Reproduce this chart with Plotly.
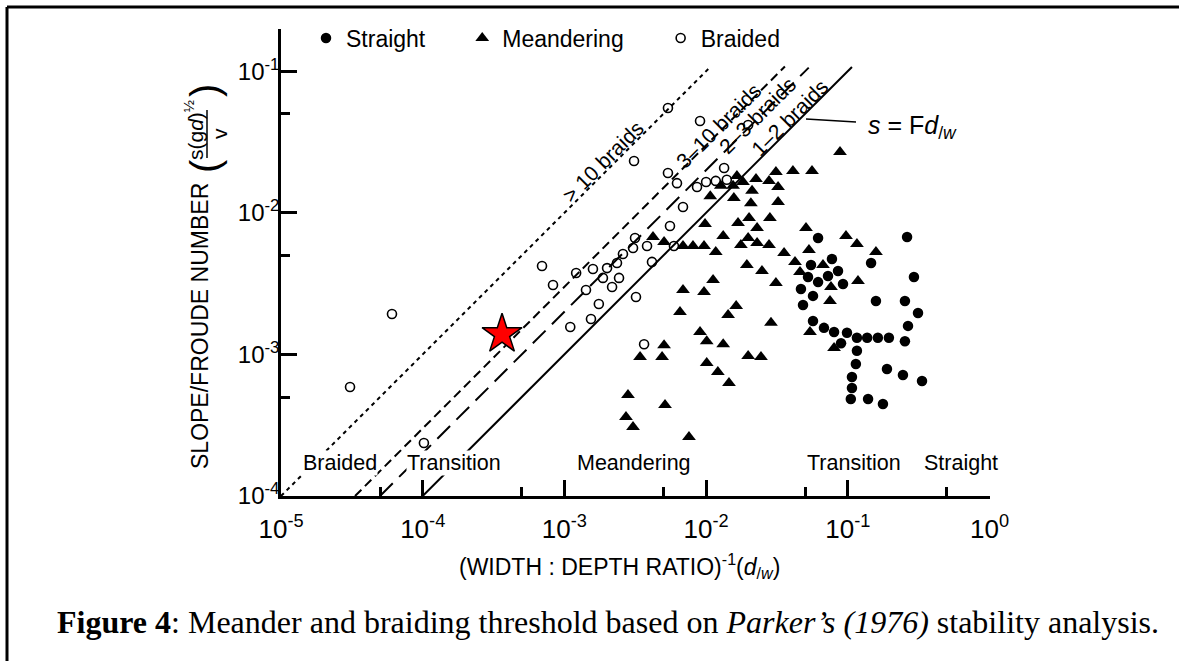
import plotly.graph_objects as go

W, H = 1179, 661

# ---------------- data ----------------
braided_x = [3.07e-5, 6.07e-5, 1.02e-4, 6.95e-4, 8.31e-4, 1.10e-3, 1.21e-3, 1.42e-3,
             1.54e-3, 1.59e-3, 1.75e-3, 1.87e-3, 2.00e-3, 2.17e-3, 2.35e-3, 2.43e-3,
             2.59e-3, 3.05e-3, 3.15e-3, 3.20e-3, 3.65e-3, 3.83e-3, 4.15e-3, 3.10e-3,
             5.38e-3, 5.38e-3, 6.23e-3, 5.56e-3, 5.93e-3, 6.87e-3, 9.06e-3, 1.98e-2,
             8.63e-3, 1.00e-2, 1.17e-2, 1.34e-2, 1.40e-2]
braided_y = [5.89e-4, 1.93e-3, 2.37e-4, 4.21e-3, 3.09e-3, 1.56e-3, 3.76e-3, 2.85e-3,
             1.78e-3, 4.01e-3, 2.27e-3, 3.47e-3, 4.07e-3, 2.99e-3, 4.42e-3, 3.47e-3,
             5.12e-3, 5.64e-3, 6.64e-3, 2.54e-3, 1.18e-3, 5.83e-3, 4.50e-3, 2.32e-2,
             5.50e-2, 1.91e-2, 1.62e-2, 8.07e-3, 5.83e-3, 1.10e-2, 4.45e-2, 4.17e-2,
             1.52e-2, 1.65e-2, 1.68e-2, 2.07e-2, 1.71e-2]

meander_x = [8.81e-2, 4.10e-2, 5.59e-2, 3.11e-2, 1.65e-2, 2.25e-2, 2.78e-2, 1.27e-2,
             1.82e-2, 1.55e-2, 3.22e-2, 2.11e-2, 1.07e-2, 1.57e-2, 2.07e-2, 3.22e-2,
             9.83e-3, 1.68e-2, 2.01e-2, 2.82e-2, 2.29e-2, 5.07e-2, 1.32e-2, 1.98e-2,
             2.29e-2, 2.78e-2, 1.76e-2, 9.71e-2, 1.16e-1, 1.58e-1, 4.22e-3, 5.05e-3,
             6.87e-3, 8.08e-3, 9.67e-3, 1.17e-2, 3.55e-2, 5.32e-2, 1.94e-2, 2.48e-2,
             4.24e-2, 4.60e-2, 6.68e-2, 7.61e-2, 3.11e-2, 1.12e-2, 6.87e-3, 9.67e-3,
             1.18e-1, 6.54e-3, 1.63e-2, 1.43e-2, 2.87e-2, 9.06e-3, 1.01e-2, 1.32e-2,
             5.05e-3, 5.41e-2, 7.49e-2, 8.00e-2, 3.42e-3, 4.89e-3, 1.98e-2, 2.44e-2,
             1.01e-2, 1.21e-2, 1.45e-2, 2.81e-3, 5.13e-3, 2.72e-3, 3.05e-3, 7.57e-3]
meander_y = [2.69e-2, 1.97e-2, 1.97e-2, 1.94e-2, 1.82e-2, 1.73e-2, 1.68e-2, 1.55e-2,
             1.65e-2, 1.55e-2, 1.52e-2, 1.43e-2, 1.31e-2, 1.27e-2, 1.17e-2, 1.19e-2,
             8.34e-3, 8.47e-3, 9.19e-3, 9.19e-3, 7.81e-3, 7.81e-3, 6.86e-3, 6.64e-3,
             6.12e-3, 5.92e-3, 5.92e-3, 6.86e-3, 6.02e-3, 5.29e-3, 6.75e-3, 6.22e-3,
             5.83e-3, 5.83e-3, 5.83e-3, 5.29e-3, 5.20e-3, 5.46e-3, 4.28e-3, 3.88e-3,
             4.49e-3, 3.82e-3, 4.28e-3, 2.99e-3, 3.19e-3, 3.35e-3, 2.85e-3, 2.76e-3,
             3.30e-3, 1.99e-3, 2.20e-3, 1.90e-3, 1.67e-3, 1.44e-3, 1.24e-3, 1.18e-3,
             1.16e-3, 1.44e-3, 2.38e-3, 1.11e-3, 9.59e-4, 9.59e-4, 9.75e-4, 9.59e-4,
             8.69e-4, 7.51e-4, 6.28e-4, 5.17e-4, 4.39e-4, 3.61e-4, 3.07e-4, 2.61e-4]

straight_x = [6.17e-2, 2.62e-1, 7.73e-2, 5.50e-2, 8.53e-2, 7.25e-2, 5.24e-2, 6.17e-2,
              9.25e-2, 1.46e-1, 2.93e-1, 4.67e-2, 5.68e-2, 4.83e-2, 1.58e-1, 2.53e-1,
              3.13e-1, 5.68e-2, 6.79e-2, 8.00e-2, 9.87e-2, 1.16e-1, 1.37e-1, 1.63e-1,
              1.95e-1, 2.53e-1, 2.66e-1, 8.96e-2, 1.16e-1, 1.14e-1, 1.89e-1, 2.45e-1,
              3.34e-1, 1.07e-1, 1.07e-1, 1.05e-1, 1.39e-1, 1.77e-1]
straight_y = [6.64e-3, 6.75e-3, 4.72e-3, 4.28e-3, 3.88e-3, 3.58e-3, 3.52e-3, 3.24e-3,
              3.14e-3, 4.42e-3, 3.52e-3, 2.90e-3, 2.59e-3, 2.23e-3, 2.38e-3, 2.38e-3,
              1.96e-3, 1.72e-3, 1.54e-3, 1.44e-3, 1.42e-3, 1.31e-3, 1.31e-3, 1.31e-3,
              1.31e-3, 1.24e-3, 1.59e-3, 1.20e-3, 1.06e-3, 8.55e-4, 7.88e-4, 7.16e-4,
              6.49e-4, 6.92e-4, 5.79e-4, 4.84e-4, 4.84e-4, 4.47e-4]

star_x = [3.63e-4]
star_y = [1.39e-3]

# threshold lines s = F * d/w
threshold_F = [1, 2, 3, 10]
threshold_xmin = [1.0e-4, 5.0e-5, 3.33e-5, 1.0e-5]
threshold_xmax = [0.107, 0.053, 0.036, 0.0105]
threshold_labels = ["1\u20132 braids", "2\u20133 braids", "3\u201310 braids", "> 10 braids"]

x_tickvals = [1e-5, 1e-4, 1e-3, 1e-2, 1e-1, 1e0]
x_ticktext = ["10<sup>-5</sup>", "10<sup>-4</sup>", "10<sup>-3</sup>",
              "10<sup>-2</sup>", "10<sup>-1</sup>", "10<sup>0</sup>"]
x_minor = [5e-5, 5e-4, 5e-3, 5e-2, 5e-1]
y_tickvals = [1e-4, 1e-3, 1e-2, 1e-1]
y_ticktext = ["10<sup>-4</sup>", "10<sup>-3</sup>", "10<sup>-2</sup>", "10<sup>-1</sup>"]
y_minor = [5e-4, 5e-3, 5e-2]

region_labels = ["Braided", "Transition", "Meandering", "Transition", "Straight"]

# ---------------- styling ----------------
SANS = "Liberation Sans, Arial, Helvetica, sans-serif"
SERIF = "Liberation Serif, Times New Roman, serif"
line_dash = ["solid", "18px,9px", "9px,5px", "4px,4px"]


def P(px, py):
    return px / W, 1 - py / H


fig = go.Figure()

for F, x0, x1, dash in zip(threshold_F, threshold_xmin, threshold_xmax, line_dash):
    fig.add_trace(go.Scatter(
        x=[x0, x1], y=[F * x0, F * x1], mode="lines",
        line=dict(color="black", width=2, dash=dash),
        showlegend=False, hoverinfo="skip"))

fig.add_trace(go.Scatter(
    x=braided_x, y=braided_y, mode="markers", name="Braided", legendrank=3,
    marker=dict(symbol="circle-open", size=9, color="black", line=dict(width=1.6))))
fig.add_trace(go.Scatter(
    x=meander_x, y=meander_y, mode="markers", name="Meandering" + "\u00a0" * 5, legendrank=2,
    marker=dict(symbol="triangle-up", size=12, color="black", line=dict(width=0))))
fig.add_trace(go.Scatter(
    x=straight_x, y=straight_y, mode="markers", name="Straight" + "\u00a0" * 5, legendrank=1,
    marker=dict(symbol="circle", size=10.5, color="black", line=dict(width=0))))
fig.add_trace(go.Scatter(
    x=star_x, y=star_y, mode="markers", showlegend=False,
    marker=dict(symbol="star", size=30, color="#ff0000", line=dict(color="black", width=1.5))))

annotations = []


def add_text(text, px, py, size, angle=0, xanchor="center", yanchor="middle",
             family=SANS, bg=None):
    x, y = P(px, py)
    d = dict(text=text, x=x, y=y, xref="paper", yref="paper", showarrow=False,
             textangle=angle, xanchor=xanchor, yanchor=yanchor,
             font=dict(family=family, size=size, color="black"))
    if bg:
        d["bgcolor"] = bg
        d["borderpad"] = 0
    annotations.append(d)


# line labels
label_pos = [(790, 118), (757, 115), (719, 126), (603, 162)]
for txt, (px, py) in zip(threshold_labels, label_pos):
    add_text(txt, px, py, 21, angle=-45)

# region labels along bottom
region_pos = [340, 454, 634, 854, 961]
for txt, px in zip(region_labels, region_pos):
    add_text(txt, px, 463, 21.5, bg="white")

# s = F d/w
add_text("<i>s</i> = F<i>d</i><sub>/<i>w</i></sub>", 866, 127, 25, xanchor="left")

# axis titles
add_text("SLOPE/FROUDE NUMBER", 200, 326, 23, angle=-90)
add_text("s(g<i>d</i>)<sup>\u00bd</sup>", 194, 130, 21, angle=-90)
add_text("v", 219, 134, 21, angle=-90)
add_text("(", 205, 166, 40, angle=-90)
add_text(")", 205, 91, 40, angle=-90)
add_text("(WIDTH : DEPTH RATIO)<sup>-1</sup>(<i>d</i><sub>/<i>w</i></sub>)", 619, 566, 23)

# caption
add_text("<b>Figure 4</b>: Meander and braiding threshold based on <i>Parker\u2019s (1976)</i> "
         "stability analysis.", 55, 622, 32, xanchor="left", family=SERIF)

shapes = []


def add_line(px0, py0, px1, py1, width):
    x0, y0 = P(px0, py0)
    x1, y1 = P(px1, py1)
    shapes.append(dict(type="line", xref="paper", yref="paper", x0=x0, y0=y0, x1=x1, y1=y1,
                       line=dict(color="black", width=width)))


add_line(806, 119, 856, 122, 1.5)       # leader to s = F d/w
add_line(207, 110, 207, 158, 1.5)       # fraction bar
add_line(7, 7, W, 7, 3)                 # figure frame top
add_line(7, 7, 7, H, 3)                 # figure frame left

axis_common = dict(type="log", showgrid=False, zeroline=False, showline=True,
                   linecolor="black", linewidth=2.5, mirror=False, automargin=False,
                   ticks="inside", ticklen=16, tickwidth=2.5, tickcolor="black",
                   tickmode="array")

fig.update_layout(
    width=W, height=H, margin=dict(l=0, r=0, t=0, b=0, pad=0, autoexpand=False),
    paper_bgcolor="white", plot_bgcolor="white",
    font=dict(family=SANS, color="black"),
    xaxis=dict(axis_common, domain=[281 / W, 989.5 / W], range=[-5, 0],
               tickvals=x_tickvals, ticktext=x_ticktext,
               tickfont=dict(size=26, family=SANS, color="black"),
               ticklabelstandoff=8,
               minor=dict(tickmode="array", tickvals=x_minor, ticks="inside",
                          ticklen=9, tickwidth=2.5, tickcolor="black")),
    yaxis=dict(axis_common, domain=[1 - 496 / H, 1 - 29 / H], range=[-4, -0.702],
               tickvals=y_tickvals, ticktext=y_ticktext,
               tickfont=dict(size=24, family=SANS, color="black"),
               ticklabelstandoff=-6,
               minor=dict(tickmode="array", tickvals=y_minor, ticks="inside",
                          ticklen=9, tickwidth=2.5, tickcolor="black")),
    legend=dict(orientation="h", x=306 / W, xanchor="left", y=1 - 38 / H, yanchor="middle",
                font=dict(size=23, family=SANS, color="black"),
                bgcolor="rgba(0,0,0,0)", itemwidth=30),
    annotations=annotations, shapes=shapes,
)

fig.write_html("out.html", config={"displayModeBar": False},
               post_script="document.body.style.margin='0';")
